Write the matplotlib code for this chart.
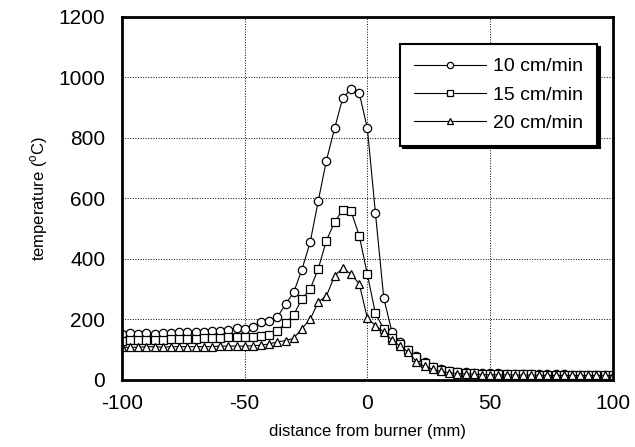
import matplotlib
matplotlib.use("Agg")
import matplotlib.pyplot as plt

plt.rcParams['font.family'] = ['Liberation Sans', 'DejaVu Sans']
plt.rcParams['mathtext.fontset'] = 'custom'
plt.rcParams['mathtext.rm'] = 'Liberation Sans'
plt.rcParams['axes.unicode_minus'] = False

# distance from burner (mm)
distance = [-100, -96.7, -93.3, -90, -86.7, -83.3, -80, -76.7, -73.3, -70,
            -66.7, -63.3, -60, -56.7, -53.3, -50, -46.7, -43.3, -40, -36.7,
            -33.3, -30, -26.7, -23.3, -20, -16.7, -13.3, -10, -6.7, -3.3,
            0, 3.3, 6.7, 10, 13.3, 16.7, 20, 23.3, 26.7, 30,
            33.3, 36.7, 40, 43.3, 46.7, 50, 53.3, 56.7, 60, 63.3,
            66.7, 70, 73.3, 76.7, 80, 83.3, 86.7, 90, 93.3, 96.7, 100]

temp_10 = [152, 155, 152, 155, 152, 155, 155, 158, 160, 157,
           160, 162, 163, 165, 172, 167, 176, 192, 195, 208,
           250, 290, 364, 455, 592, 725, 833, 933, 961, 948,
           832, 551, 270, 160, 125, 98, 78, 58, 44, 35,
           30, 27, 25, 24, 23, 22, 22, 21, 21, 20,
           20, 20, 19, 19, 19, 18, 18, 18, 18, 17, 17]

temp_15 = [130, 132, 132, 133, 133, 133, 135, 135, 135, 137,
           138, 140, 140, 141, 141, 141, 141, 145, 149, 163,
           187, 215, 268, 300, 368, 460, 523, 562, 559, 477,
           349, 220, 168, 138, 118, 98, 75, 56, 42, 33,
           28, 25, 23, 22, 21, 20, 20, 20, 19, 19,
           19, 18, 18, 18, 17, 17, 17, 17, 16, 16, 16]

temp_20 = [108, 108, 108, 110, 110, 108, 110, 110, 110, 110,
           110, 110, 112, 112, 112, 112, 113, 115, 119, 126,
           130, 138, 170, 200, 258, 277, 345, 370, 350, 318,
           204, 180, 158, 132, 112, 92, 60, 45, 35, 28,
           24, 21, 20, 19, 18, 17, 17, 17, 16, 16,
           16, 16, 15, 15, 15, 15, 15, 15, 15, 15, 15]

series = [(temp_10, 'o', '10 cm/min'),
          (temp_15, 's', '15 cm/min'),
          (temp_20, '^', '20 cm/min')]

fig = plt.figure(figsize=(6.35, 4.47), dpi=100)
ax = fig.add_axes([0.192, 0.150, 0.773, 0.812])

for temps, mk, label in series:
    ax.plot(distance, temps, color='black', lw=0.8, marker=mk, ms=6,
            mfc='white', mec='black', mew=0.9, label=label)

ax.set_xlim(-100, 100)
ax.set_ylim(0, 1200)
ax.set_xticks([-100, -50, 0, 50, 100])
ax.set_yticks(range(0, 1201, 200))
ax.tick_params(length=0, labelsize=15)
ax.tick_params(axis='y', pad=12)
ax.tick_params(axis='x', pad=10)
ax.grid(True, color='black', linestyle=':', linewidth=0.7)
for sp in ax.spines.values():
    sp.set_linewidth(2)

ax.set_xlabel('distance from burner (mm)', fontsize=12, labelpad=8)
ax.set_ylabel('temperature ($^{\\mathrm{o}}$C)', fontsize=12, labelpad=6)

leg = ax.legend(loc='upper right', bbox_to_anchor=(0.968, 0.925),
                borderaxespad=0, fontsize=14, fancybox=False,
                shadow={'color': 'black', 'alpha': 1}, markerscale=0.75,
                handlelength=3.7, handletextpad=0.4, labelspacing=0.55,
                borderpad=0.7, framealpha=1)
leg.get_frame().set_edgecolor('black')
leg.get_frame().set_linewidth(1.5)

fig.savefig('out.png', dpi=100)
